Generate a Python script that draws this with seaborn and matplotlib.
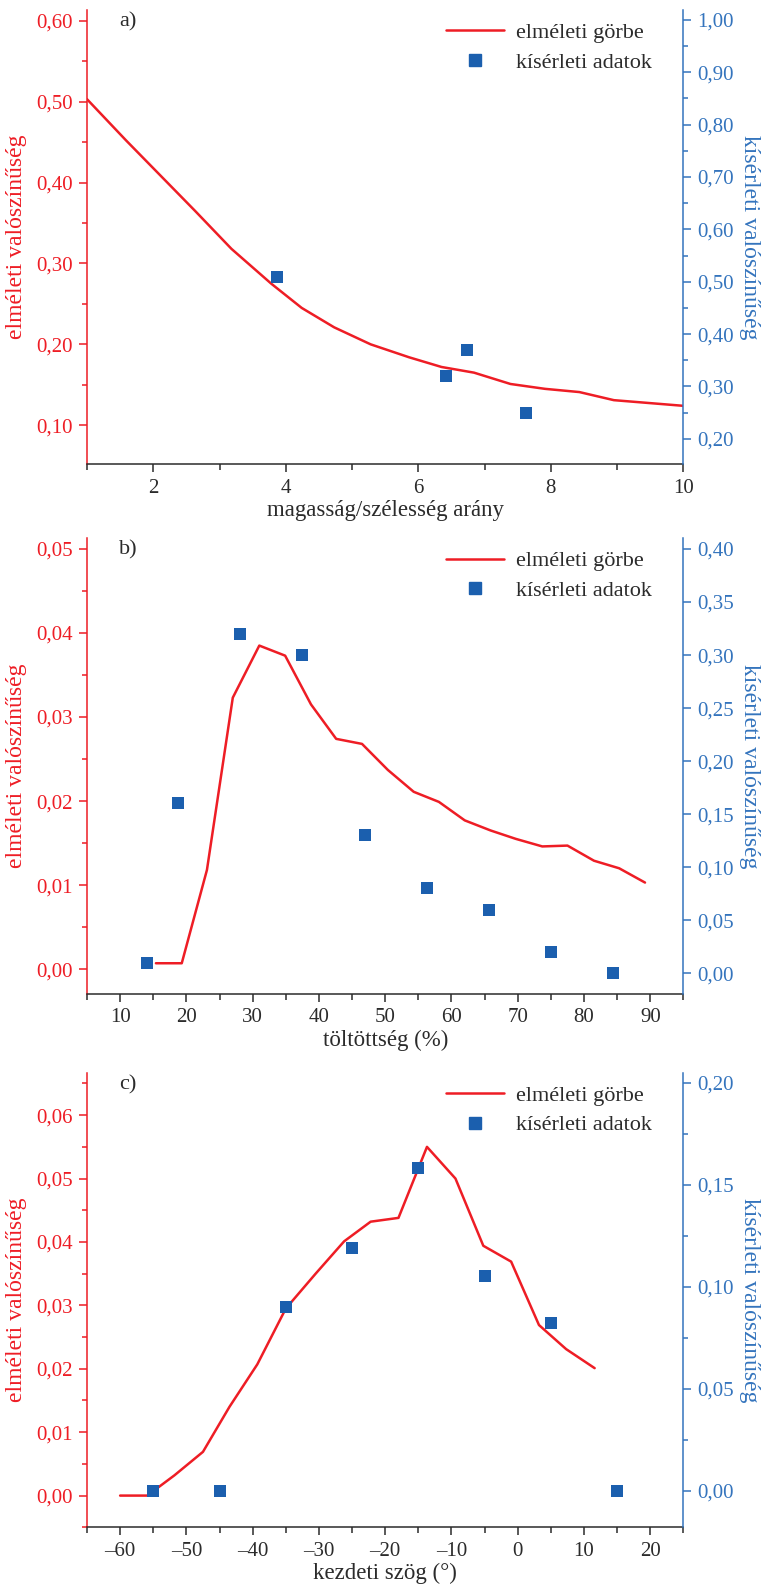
import numpy as np
import pandas as pd
import seaborn as sns
import matplotlib.pyplot as plt
from matplotlib.ticker import MultipleLocator, FuncFormatter
from matplotlib.lines import Line2D

# a) magasság/szélesség arány
a_elm_x = [1.0, 1.59, 2.63, 3.18, 3.78, 4.24, 4.73, 5.28, 5.86, 6.35, 6.84, 7.39, 7.91, 8.43, 8.95, 10.0]
a_elm_y = [0.503, 0.452, 0.365, 0.318, 0.275, 0.245, 0.221, 0.200, 0.184, 0.172, 0.165, 0.151, 0.145, 0.141, 0.131, 0.124]
a_kis_x = [3.86, 6.42, 6.74, 7.63]
a_kis_y = [0.51, 0.32, 0.37, 0.25]

# b) töltöttség
b_elm_x = [15.4, 19.3, 23.1, 27.0, 31.0, 34.9, 38.8, 42.6, 46.5, 50.4, 54.3, 58.1, 62.0, 65.9, 69.7, 73.7, 77.5, 81.5, 85.3, 89.2]
b_elm_y = [0.0007, 0.0007, 0.0118, 0.0323, 0.0385, 0.0373, 0.0315, 0.0274, 0.0268, 0.0237, 0.0211, 0.0199,
           0.0177, 0.0165, 0.0155, 0.0146, 0.0147, 0.0129, 0.0120, 0.0103]
b_kis_x = [14.06, 18.75, 28.13, 37.5, 46.88, 56.25, 65.63, 75.0, 84.38]
b_kis_y = [0.01, 0.16, 0.32, 0.30, 0.13, 0.08, 0.06, 0.02, 0.0]

# c) kezdeti szög
c_elm_x = [-60.0, -55.9, -51.8, -47.5, -43.5, -39.3, -35.0, -30.5, -26.2, -22.2, -18.0, -13.7, -9.4, -5.2, -1.0, 3.2, 7.3, 11.6]
c_elm_y = [0.0, 0.0, 0.0032, 0.0069, 0.0140, 0.0207, 0.0295, 0.0350, 0.0401, 0.0432, 0.0438, 0.0550,
           0.0500, 0.0394, 0.0369, 0.0269, 0.0231, 0.0201]
c_kis_x = [-55, -45, -35, -25, -15, -5, 5, 15]
c_kis_y = [0.0, 0.0, 0.09, 0.119, 0.158, 0.105, 0.082, 0.0]

RED = "#ee1d25"
BLUE = "#1b5fae"
BLUE_AX = "#3474bd"
DARK = "#2b2b2b"
FS = 15

sns.set_theme(style="white")
plt.rcParams['font.family'] = ['Liberation Serif', 'DejaVu Serif']


def comma(dec):
    return FuncFormatter(lambda v, p: f"{v:.{dec}f}".replace('.', ','))


def dash(v, p):
    return f"{v:.0f}".replace('-', '\u2013')


def panel(rect, letter, elm_x, elm_y, kis_x, kis_y, xlim, xmaj, xmin, ylim_l, ymaj_l, ymin_l,
          ylim_r, ymaj_r, ymin_r, xlabel):
    ax = fig.add_axes(rect)
    sns.lineplot(x=elm_x, y=elm_y, ax=ax, color=RED, linewidth=1.8, sort=False, estimator=None)
    ax2 = ax.twinx()
    sns.scatterplot(x=kis_x, y=kis_y, ax=ax2, marker='s', s=72, color=BLUE, linewidth=0)

    ax.set_xlim(*xlim)
    ax.set_ylim(*ylim_l)
    ax2.set_ylim(*ylim_r)
    ax.xaxis.set_major_locator(MultipleLocator(xmaj))
    ax.xaxis.set_minor_locator(MultipleLocator(xmin))
    ax.xaxis.set_major_formatter(FuncFormatter(dash))
    ax.yaxis.set_major_locator(MultipleLocator(ymaj_l))
    ax.yaxis.set_minor_locator(MultipleLocator(ymin_l))
    ax.yaxis.set_major_formatter(comma(2))
    ax2.yaxis.set_major_locator(MultipleLocator(ymaj_r))
    if ymin_r:
        ax2.yaxis.set_minor_locator(MultipleLocator(ymin_r))
    ax2.yaxis.set_major_formatter(comma(2))

    for a in (ax, ax2):
        a.spines['top'].set_visible(False)
        for s in a.spines.values():
            s.set_linewidth(1.1)
    ax.spines['right'].set_visible(False)
    ax.spines['left'].set_color(RED)
    ax.spines['bottom'].set_color(DARK)
    ax2.spines['left'].set_visible(False)
    ax2.spines['bottom'].set_visible(False)
    ax2.spines['right'].set_color(BLUE_AX)

    ax.tick_params(axis='x', which='both', direction='out', bottom=True, colors=DARK, width=1.1,
                   labelsize=FS, pad=4.5)
    ax.tick_params(axis='x', which='major', length=6)
    ax.tick_params(axis='x', which='minor', length=4)
    ax.tick_params(axis='y', which='both', direction='out', left=True, colors=RED, width=1.1,
                   labelsize=FS, pad=4.3)
    ax.tick_params(axis='y', which='major', length=6)
    ax.tick_params(axis='y', which='minor', length=3.5)
    ax2.tick_params(axis='y', which='both', direction='out', right=True, colors=BLUE_AX, width=1.1,
                    labelsize=FS, pad=4)
    ax2.tick_params(axis='y', which='major', length=6)
    ax2.tick_params(axis='y', which='minor', length=3.5)

    ax.set_xlabel(xlabel, fontsize=16.5, color=DARK)
    ax.xaxis.set_label_coords(0.5, -0.079)
    ax.set_ylabel("elméleti valószínűség", fontsize=17, color=RED)
    ax.yaxis.set_label_coords(-0.1, 0.5)
    ax2.set_ylabel("kísérleti valószínűség", fontsize=17, color=BLUE_AX, rotation=270)
    ax2.yaxis.label.set_va('bottom')
    ax2.yaxis.set_label_coords(1.093, 0.5)

    ax.text(0.0536, 0.9736, letter, transform=ax.transAxes, fontsize=16, color=DARK,
            ha='left', va='center')

    handles = [Line2D([], [], color=RED, linewidth=1.8),
               Line2D([], [], color=BLUE, marker='s', markersize=8.4, linestyle='none')]
    ax2.legend(handles, ["elméleti görbe", "kísérleti adatok"], loc='upper left',
               bbox_to_anchor=(0.602, 0.972), frameon=False, fontsize=16, borderpad=0,
               borderaxespad=0, handlelength=2.6, handletextpad=0.55, labelspacing=0.4,
               labelcolor=DARK)
    return ax, ax2


fig = plt.figure(figsize=(7.61, 15.84), dpi=100)
L, W = 0.1143, 0.7838

panel([L, 0.70676, W, 0.28693], "a)", a_elm_x, a_elm_y, a_kis_x, a_kis_y,
      (1, 10), 2, 1, (0.0515, 0.6132), 0.1, 0.05, (0.151, 1.019), 0.1, 0.05,
      "magasság/szélesség arány")
panel([L, 0.37279, W, 0.28756], "b)", b_elm_x, b_elm_y, b_kis_x, b_kis_y,
      (5, 95), 10, 5, (-0.0029, 0.0513), 0.01, 0.005, (-0.0192, 0.4104), 0.05, None,
      "töltöttség (%)")
panel([L, 0.0358, W, 0.2870], "c)", c_elm_x, c_elm_y, c_kis_x, c_kis_y,
      (-65, 25), 10, 5, (-0.005, 0.0667), 0.01, 0.005, (-0.018, 0.2049), 0.05, 0.025,
      "kezdeti szög (°)")

fig.savefig("out.png", dpi=100)
